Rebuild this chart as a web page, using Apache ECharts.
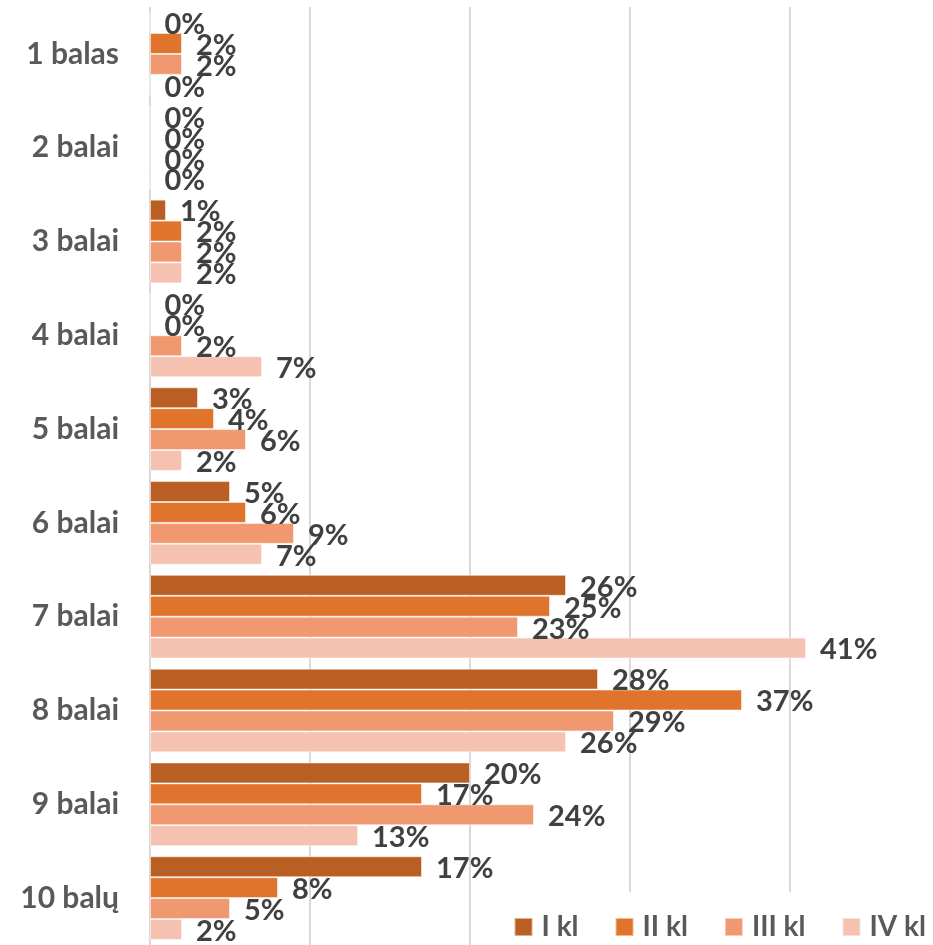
<!DOCTYPE html>
<html>
<head>
<meta charset="utf-8">
<script src="https://cdn.jsdelivr.net/npm/echarts@6/dist/echarts.min.js"></script>
<style>html,body{margin:0;padding:0;background:#fff}#c{width:933px;height:945px}</style>
</head>
<body>
<div id="c"></div>
<script>
const categories = ['1 balas','2 balai','3 balai','4 balai','5 balai','6 balai','7 balai','8 balai','9 balai','10 balų'];
const seriesNames = ['I kl','II kl','III kl','IV kl'];
const iKl   = [0, 0, 1, 0, 3, 5, 26, 28, 20, 17];
const iiKl  = [2, 0, 2, 0, 4, 6, 25, 37, 17, 8];
const iiiKl = [2, 0, 2, 2, 6, 9, 23, 29, 24, 5];
const ivKl  = [0, 0, 2, 7, 2, 7, 41, 26, 13, 2];
const colors = ['#BA5F23', '#E0742C', '#F09870', '#F5C2B1'];

const FONT = 'Lato, "Open Sans", sans-serif';
const values = [iKl, iiKl, iiiKl, ivKl];

const chart = echarts.init(document.getElementById('c'));
chart.setOption({
  animation: false,
  textStyle: { fontFamily: FONT },
  grid: { left: 150, top: 7, right: 63, height: 946, containLabel: false },
  xAxis: {
    type: 'value', min: 0, max: 45, interval: 10,
    axisLabel: { show: false }, axisLine: { show: false }, axisTick: { show: false },
    splitLine: { show: true, showMaxLine: false, lineStyle: { color: '#D9D9D9', width: 2 } }
  },
  yAxis: {
    type: 'category', data: categories, inverse: true,
    axisLine: { show: false }, axisTick: { show: false },
    axisLabel: { fontFamily: FONT, fontSize: 30, fontWeight: 'bold', color: '#595959', margin: 31 }
  },
  legend: {
    data: seriesNames,
    right: 0, top: 892,
    padding: [21, 7, 10, 20],
    backgroundColor: '#fff',
    itemWidth: 18, itemHeight: 18, itemGap: 36,
    icon: 'rect',
    textStyle: { fontFamily: FONT, fontSize: 28, fontWeight: 'bold', color: '#595959', padding: [0, 0, 0, 4] }
  },
  series: seriesNames.map((name, i) => ({
    name: name,
    type: 'bar',
    data: values[i],
    barGap: '0%',
    barCategoryGap: '10.8%',
    itemStyle: { color: colors[i], borderColor: 'rgba(255,255,255,0.5)', borderWidth: 1 },
    label: {
      show: true, position: 'right', distance: 14, offset: [0, 2],
      formatter: '{c}%',
      fontFamily: FONT, fontSize: 29, fontWeight: 'bold', color: '#404040'
    }
  }))
});
</script>
</body>
</html>
